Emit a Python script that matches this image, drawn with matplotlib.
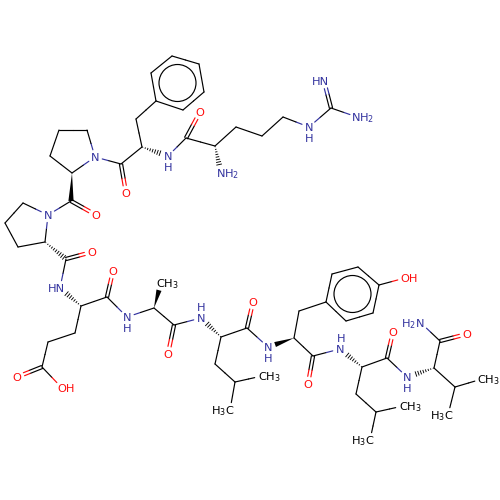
from __future__ import annotations

import matplotlib
matplotlib.use("Agg")
import matplotlib.pyplot as plt
import numpy as np
from matplotlib.patches import Circle, Polygon

NAVY = "#33339F"
RED = "#FF0D0D"
BLACK = "#000000"

# atom centres (pixels)
atom_x = [324, 331, 357, 309, 283, 262, 236, 215, 221, 186, 200, 168, 142, 136,
          156, 151, 172, 199, 204, 183, 121, 126, 95, 87, 59, 50, 72, 71, 96, 48,
          23, 5, 18, 45, 66, 92, 60, 81, 107, 113, 75, 48, 42, 17, 62, 127, 154,
          161, 174, 168, 201, 221, 247, 253, 215, 235, 262, 230, 268, 294, 299,
          326, 332, 358, 379, 373, 346, 405, 313, 308, 340, 362, 387, 393, 356,
          376, 403, 370, 407, 434, 440, 467, 421, 455, 482, 448]
atom_y = [81, 108, 117, 127, 117, 136, 127, 146, 173, 138, 112, 156, 147, 119,
          101, 73, 56, 64, 92, 110, 164, 193, 157, 130, 130, 156, 173, 201, 215, 215,
          203, 223, 247, 242, 259, 252, 288, 306, 297, 271, 333, 342, 367, 377, 388, 317, 308,
          283, 325, 354, 318, 337, 328, 302, 364, 382, 376, 410, 347, 338, 311,
          302, 274, 267, 285, 313, 321, 278, 356, 384, 349, 367, 358, 332, 394,
          412, 406, 440, 377, 368, 341, 334, 323, 387, 379, 415]

nitrogens = [0, 2, 3, 8, 11, 22, 29, 36, 45, 50, 58, 70, 78, 82]
oxygens = [10, 21, 28, 35, 39, 43, 44, 49, 53, 67, 69, 73, 81]
methyls = [47, 56, 57, 76, 77, 84, 85]

single_bonds = [(1, 2), (1, 3), (3, 4), (4, 5), (5, 6), (6, 7), (7, 9), (9, 11),
                (12, 13), (13, 14), (14, 15), (15, 16), (16, 17), (17, 18), (18, 19),
                (19, 14), (12, 20), (20, 22), (22, 23), (23, 24), (24, 25), (25, 26),
                (26, 22), (27, 29), (29, 30), (30, 31), (31, 32), (32, 33), (33, 29),
                (34, 36), (37, 38), (37, 40), (40, 41), (41, 42), (42, 44), (38, 45),
                (45, 46), (46, 48), (48, 50), (51, 52), (51, 54), (54, 55), (55, 56),
                (55, 57), (52, 58), (59, 60), (59, 68), (60, 61), (61, 62), (62, 63),
                (63, 64), (64, 65), (65, 66), (66, 61), (64, 67), (68, 70), (71, 72),
                (71, 74), (74, 75), (75, 76), (75, 77), (72, 78), (79, 80), (80, 82),
                (79, 83), (83, 84), (83, 85)]
double_bonds = [(1, 0), (9, 10), (20, 21), (27, 28), (34, 35), (38, 39), (42, 43),
                (48, 49), (52, 53), (68, 69), (72, 73), (80, 81)]
wedge_bonds = [(26, 27), (46, 47), (59, 58)]
hash_bonds = [(7, 8), (12, 11), (33, 34), (37, 36), (51, 50), (71, 70), (79, 78)]

ring_centres_x = [177.5, 352.5]
ring_centres_y = [83, 294]
ring_radius = [18.5, 18.5]

label_text = ["HN", r"NH$_2$", "N", "H", r"NH$_2$", "N", "H", "O", "O", "N", "O", "N", "O",
              "HN", "O", "O", "OH", "N", "H", r"CH$_3$", "O", "N", "H",
              "O", r"CH$_3$", r"H$_3$C", "N", "H", "O", "OH", "N", "H", "O",
              r"CH$_3$", r"H$_3$C", "N", "H", "O", r"H$_2$N", r"CH$_3$", r"H$_3$C"]
label_x = [320, 363, 309, 309, 228, 168, 168, 200, 126, 95, 96, 48, 92,
           56, 113, 17, 66, 127, 127, 167, 168, 201, 201,
           253, 269, 223, 268, 268, 308, 409, 340, 341, 393,
           410, 363, 407, 407, 467, 413, 488, 442]
label_y = [81, 117, 127, 138, 173, 156, 167, 112, 193, 157, 215, 215, 252,
           288, 271, 377, 388, 317, 328, 283, 354, 318, 307,
           302, 376, 410, 347, 358, 384, 278, 349, 338, 332,
           406, 440, 377, 388, 334, 323, 379, 415]
label_color = ["N", "N", "N", "N", "N", "N", "N", "O", "O", "N", "O", "N", "O",
               "N", "O", "O", "O", "N", "N", "C", "O", "N", "N",
               "O", "C", "C", "N", "N", "O", "O", "N", "N", "O",
               "C", "C", "N", "N", "O", "N", "C", "C"]

COLORS = {"C": BLACK, "N": NAVY, "O": RED}
LABEL_GAP = 7.5
LINE_W = 0.85


def atom_colour(idx: int) -> str:
    if idx in nitrogens:
        return NAVY
    if idx in oxygens:
        return RED
    return BLACK


def atom_gap(idx: int) -> float:
    if idx in nitrogens or idx in oxygens or idx in methyls:
        return LABEL_GAP
    return 0.0


def bond_points(a: int, b: int) -> tuple[np.ndarray, np.ndarray, np.ndarray]:
    p = np.array([atom_x[a], atom_y[a]], dtype=float)
    q = np.array([atom_x[b], atom_y[b]], dtype=float)
    d = (q - p) / np.hypot(*(q - p))
    return p + d * atom_gap(a), q - d * atom_gap(b), (p + q) / 2


def draw_segment(ax, p, q, mid, col_a, col_b) -> None:
    ax.plot([p[0], mid[0]], [p[1], mid[1]], color=col_a, lw=LINE_W, solid_capstyle="round")
    ax.plot([mid[0], q[0]], [mid[1], q[1]], color=col_b, lw=LINE_W, solid_capstyle="round")


def draw_single(ax, a: int, b: int) -> None:
    p, q, mid = bond_points(a, b)
    draw_segment(ax, p, q, mid, atom_colour(a), atom_colour(b))


def draw_double(ax, a: int, b: int) -> None:
    p, q, mid = bond_points(a, b)
    d = (q - p) / np.hypot(*(q - p))
    n = np.array([-d[1], d[0]]) * 1.6
    for sign in (-1, 1):
        draw_segment(ax, p + sign * n, q + sign * n, mid + sign * n, atom_colour(a), atom_colour(b))


def draw_wedge(ax, a: int, b: int) -> None:
    p, q, _ = bond_points(a, b)
    d = (q - p) / np.hypot(*(q - p))
    n = np.array([-d[1], d[0]]) * 2.6
    ax.add_patch(Polygon([p, q + n, q - n], closed=True, fc=BLACK, ec="none"))


def draw_hash(ax, a: int, b: int) -> None:
    p, q, _ = bond_points(a, b)
    d = (q - p) / np.hypot(*(q - p))
    n = np.array([-d[1], d[0]])
    length = np.hypot(*(q - p))
    for t in np.arange(0.04, 1.0, 2.6 / length):
        c = p + (q - p) * t
        w = 0.3 + 2.7 * t
        ax.plot([c[0] - n[0] * w, c[0] + n[0] * w], [c[1] - n[1] * w, c[1] + n[1] * w],
                color=BLACK, lw=0.65, solid_capstyle="butt")


def main() -> None:
    plt.rcParams["mathtext.default"] = "regular"
    fig = plt.figure(figsize=(5, 5), dpi=100)
    ax = fig.add_axes([0, 0, 1, 1])
    ax.set_xlim(0, 500)
    ax.set_ylim(500, 0)
    ax.axis("off")

    for a, b in single_bonds:
        draw_single(ax, a, b)
    for a, b in double_bonds:
        draw_double(ax, a, b)
    for a, b in wedge_bonds:
        draw_wedge(ax, a, b)
    for a, b in hash_bonds:
        draw_hash(ax, a, b)
    for cx, cy, r in zip(ring_centres_x, ring_centres_y, ring_radius):
        ax.add_patch(Circle((cx, cy), r, fc="none", ec=BLACK, lw=LINE_W))

    for text, x, y, col in zip(label_text, label_x, label_y, label_color):
        ax.text(x, y + 4.0, text, color=COLORS[col], fontsize=8.2, ha="center", va="baseline",
                family="DejaVu Sans")

    fig.savefig("out.png", dpi=100)


if __name__ == "__main__":
    main()
